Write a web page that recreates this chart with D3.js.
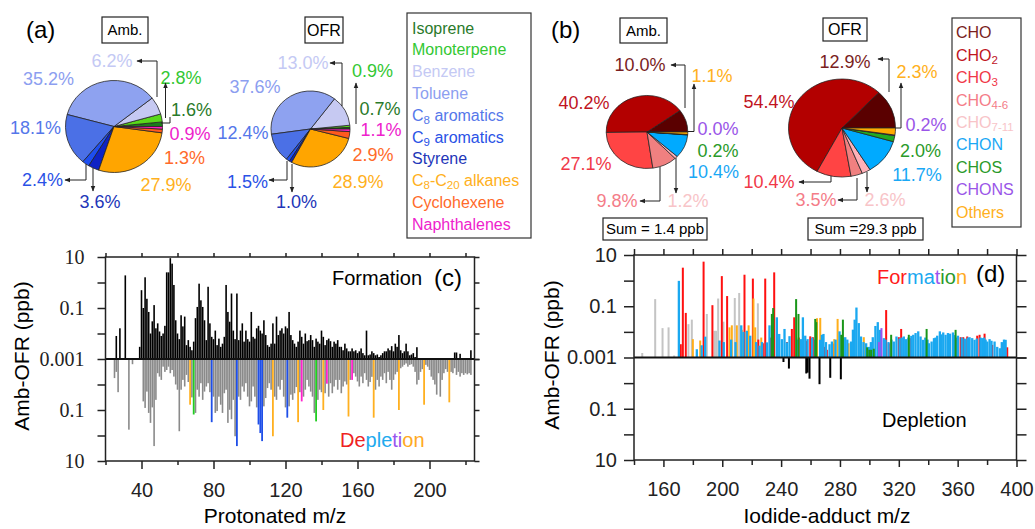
<!DOCTYPE html>
<html>
<head>
<meta charset="utf-8">
<script src="https://cdn.jsdelivr.net/npm/d3@7"></script>
<style>
  body { margin: 0; background: #fff; }
  svg { font-family: "Liberation Sans", Arial, Helvetica, sans-serif; }
</style>
</head>
<body>
<svg id="fig" width="1035" height="529"></svg>
<script>
// ---------- data ----------
// (a) VOC composition, % of total
const vocNames = ["Isoprene", "Monoterpene", "Benzene", "Toluene", "C_{8} aromatics", "C_{9} aromatics",
                  "Styrene", "C_{8}-C_{20} alkanes", "Cyclohexene", "Naphthalenes"];
const vocAmb = [1.6, 2.8, 6.2, 35.2, 18.1, 2.4, 3.6, 27.9, 1.3, 0.9];
const vocOfr = [0.7, 0.9, 13.0, 37.6, 12.4, 1.5, 1.0, 28.9, 2.9, 1.1];

// (b) oxygenated species composition, % of total
const oxyNames = ["CHO", "CHO_{2}", "CHO_{3}", "CHO_{4-6}", "CHO_{7-11}", "CHON", "CHOS", "CHONS", "Others"];
const oxyAmb = [10.0, 40.2, 27.1, 9.8, 1.2, 10.4, 0.2, 0.0, 1.1];
const oxyOfr = [12.9, 54.4, 10.4, 3.5, 2.6, 11.7, 2.0, 0.2, 2.3];
const sumAmb = 1.4, sumOfr = 29.3;

// (c) PTR spectrum difference, [m/z, ppb]
const formationC = [[26,0.008],[28,0.016],[31,1.9],[39,0.003],[40,0.5],[41,0.1],[42,1.6],[43,0.23],[44,0.07],[45,0.01],
 [46,0.03],[47,0.13],[48,0.016],[49,0.025],[50,0.012],[51,0.008],[52,0.01],[53,0.02],[54,2.5],[55,2.5],[56,9],[57,5.5],
 [58,0.8],[59,0.033],[60,0.01],[61,0.006],[62,0.052],[63,0.019],[64,0.046],[65,0.0035],[66,0.0055],[67,0.003],[68,0.0022],
 [69,0.0048],[70,0.04],[71,0.11],[72,0.9],[73,0.2],[74,0.11],[75,0.033],[76,0.0055],[77,0.68],[78,0.025],[79,0.0074],
 [80,0.006],[81,0.013],[82,0.0035],[83,0.0063],[84,0.003],[85,0.004],[86,0.0074],[87,0.8],[88,0.07],[89,0.029],[90,0.37],
 [91,0.013],[92,0.006],[93,0.37],[94,0.0055],[95,0.013],[96,0.025],[97,0.0048],[98,0.013],[99,0.006],[100,0.0048],
 [101,0.07],[102,0.0074],[103,0.0063],[104,0.016],[105,0.02],[106,0.013],[107,0.01],[108,0.033],[109,0.0087],[110,0.0035],
 [111,0.003],[112,0.004],[113,0.025],[114,0.004],[115,0.046],[116,0.0087],[117,0.013],[118,0.016],[119,0.01],[120,0.019],
 [121,0.016],[122,0.07],[123,0.0087],[124,0.0055],[125,0.004],[126,0.003],[127,0.0048],[128,0.013],[129,0.0074],[130,0.004],
 [131,0.01],[132,0.005],[133,0.0055],[134,0.0087],[135,0.0055],[136,0.003],[137,0.0063],[138,0.0048],[139,0.004],[140,0.013],
 [141,0.0074],[142,0.0035],[143,0.0055],[144,0.0063],[145,0.005],[146,0.003],[147,0.0048],[148,0.004],[149,0.0055],[150,0.003],
 [151,0.003],[152,0.0022],[153,0.004],[154,0.0026],[155,0.002],[156,0.002],[157,0.0026],[158,0.002],[159,0.0022],[160,0.0017],
 [161,0.002],[162,0.0026],[163,0.0017],[164,0.0014],[165,0.013],[166,0.0014],[167,0.0015],[168,0.002],[169,0.0017],[170,0.0014],
 [171,0.0015],[172,0.0012],[173,0.0014],[174,0.0017],[175,0.002],[176,0.002],[177,0.0026],[178,0.0022],[179,0.0032],[180,0.002],
 [181,0.004],[182,0.003],[183,0.0087],[184,0.0022],[185,0.0017],[186,0.002],[187,0.004],[188,0.002],[189,0.0014],[190,0.0015],
 [191,0.0017],[192,0.0012],[193,0.0029],[214,0.0018],[215,0.0018],[217,0.0016],[223,0.0022]];

const depletionC = [[25,0.0056],[26,0.0032],[27,0.02],[33,0.59],[35,0.0016],[41,0.046],[42,0.083],[43,0.019],[44,0.13],
 [45,0.32],[46,0.079],[47,2.6],[48,0.04],[49,0.0036],[50,0.0049],[51,0.0066],[52,0.002],[53,0.0032],[54,0.0027],[55,0.002],
 [56,0.0036],[57,0.0027],[58,0.0049],[59,0.01],[60,0.016],[61,0.68],[62,0.016],[63,0.0066],[64,0.012],[65,0.0042],[66,0.008],
 [68,0.032],[70,0.13],[71,0.016],[72,0.03],[73,0.0089],[74,0.04],[75,0.019],[76,0.012],[77,0.0089],[78,0.02],[80,0.03],
 [81,0.13],[82,0.11],[83,0.03],[84,0.062],[85,0.13],[86,0.022],[87,0.016],[88,0.32],[89,0.098],[90,0.23],[91,0.04],[92,1.07],
 [94,0.03],[95,0.04],[96,0.012],[97,0.019],[98,0.0089],[99,0.03],[100,0.072],[101,0.046],[102,0.012],[103,0.03],[104,0.079],
 [108,0.072],[109,0.034],[110,0.0138],[111,0.0089],[112,0.016],[114,0.03],[115,0.04],[116,0.012],[117,0.016],[118,0.0066],
 [119,0.03],[120,0.079],[122,0.072],[123,0.025],[124,0.04],[125,0.022],[126,0.0126],[128,0.02],[130,0.03],[131,0.016],
 [132,0.0066],[133,0.012],[134,0.019],[135,0.03],[136,0.13],[138,0.04],[139,0.016],[140,0.02],[142,0.022],[144,0.03],
 [145,0.0089],[146,0.022],[147,0.012],[148,0.0066],[149,0.016],[150,0.0066],[151,0.022],[152,0.012],[153,0.0076],[154,0.01],
 [156,0.0066],[158,0.0036],[159,0.0049],[160,0.0076],[161,0.012],[162,0.0049],[163,0.0089],[164,0.0036],[165,0.0066],
 [166,0.012],[167,0.008],[168,0.005],[170,0.016],[171,0.0066],[172,0.012],[173,0.0049],[174,0.0066],[175,0.0036],[176,0.0089],
 [177,0.0032],[178,0.0066],[179,0.016],[180,0.0066],[181,0.004],[182,0.0032],[184,0.0023],[185,0.002],[186,0.0017],
 [187,0.0015],[188,0.002],[189,0.0017],[190,0.0016],[191,0.002],[192,0.0032],[193,0.01],[194,0.0066],[195,0.0032],
 [196,0.0025],[198,0.0017],[199,0.002],[200,0.0027],[201,0.0049],[202,0.0066],[203,0.01],[204,0.025],[205,0.0036],[206,0.03],
 [207,0.0066],[208,0.0036],[209,0.0025],[210,0.0032],[212,0.0032],[213,0.0036],[214,0.0023],[215,0.0042],[216,0.0032],
 [217,0.0049],[218,0.0036],[219,0.0042],[220,0.0036],[221,0.004],[222,0.0036],[223,0.0042]];

// highlighted depletion peaks: [m/z, ppb, group]
const depletionHiC = [[67,0.062,"alk"],[69,0.15,"iso"],[79,0.3,"aro"],[93,2.6,"aro"],[105,0.37,"aro"],[106,0.8,"aro"],
 [107,1.66,"aro"],[113,1.07,"alk"],[121,0.2,"aro"],[127,0.3,"alk"],[129,0.046,"nap"],[137,0.28,"iso"],[141,0.1,"alk"],
 [143,0.0093,"nap"],[155,0.18,"alk"],[157,0.0066,"nap"],[169,0.2,"alk"],[183,0.1,"alk"],[197,0.062,"alk"],[211,0.05,"alk"]];

// (d) iodide CIMS difference, [m/z, ppb] per family
const formGrayD = [[145.6,0.0015],[154.4,0.19],[159.4,0.014],[163.5,0.015],[167.3,0.0012],[177,0.02],[179.3,0.03],
 [189.5,0.05],[194.7,0.011],[195.8,0.011],[197.2,0.2],[200.8,0.025],[208.5,0.21],[211.5,0.33],[224.2,0.13]];
const formChoD = [[171.8,0.0033],[173.2,3.2],[175.2,0.055],[187.3,5.5],[193.3,0.11],[199.7,1.5],[203.3,0.25],[215.1,1.7],
 [220.8,1.2],[224.5,0.005],[227.6,0.0036],[229.2,1.2],[232.5,0.006],[235.3,2.1],[244,0.004],[247.3,0.013],[248.9,0.037],
 [252,0.006],[257,0.0045],[259.8,0.0067],[261.6,0.0062],[269.3,0.0026],[271.1,0.002],[275.2,0.0035],[289.4,0.0035],
 [311.4,0.071],[313.2,0.0036],[320,0.0062],[321.6,0.013],[328,0.0057],[362,0.0062],[363.8,0.0062],[366.5,0.0066],
 [373.3,0.0071],[374.9,0.0077],[378.3,0.0085],[383.5,0.0031],[391,0.0036],[393.7,0.0025]];
const formOthD = [[180,0.0052],[185,0.0046],[204.9,0.015],[206.5,0.018],[209.9,0.018],[213.3,0.012],[216.5,0.011],
 [217.9,0.018],[221.2,0.2],[222.4,0.015],[226.5,0.006],[264.4,0.034],[266.6,0.035],[276.1,0.0052],[278.4,0.032],
 [285.9,0.0036],[296.2,0.0062]];
const formChonD = [[170.5,0.98],[182.7,0.0021],[186,0.003],[188.4,0.0065],[198.1,0.0046],[201,0.004],[206,0.005],
 [209,0.004],[212.9,0.018],[214.4,0.01],[216.7,0.011],[219,0.0071],[223,0.004],[225.3,0.0029],[227,0.004],[230.3,0.0039],
 [232.1,0.018],[234,0.008],[237.1,0.037],[238.7,0.0083],[240.5,0.0052],[242.3,0.013],[243.9,0.0039],[245.7,0.0068],
 [251,0.005],[253.4,0.0052],[254.8,0.037],[256.4,0.0071],[258,0.0052],[261,0.006],[263,0.005],[266.5,0.0049],
 [267.7,0.0077],[268.8,0.0083],[270.5,0.004],[272.9,0.0033],[274.5,0.0042],[277,0.005],[279.7,0.0105],[282.4,0.006],
 [283.6,0.0062],[285,0.005],[287.5,0.0042],[288.8,0.0122],[290,0.03],[291.2,0.089],[292.8,0.022],[294.3,0.0066],[296,0.004],
 [297.8,0.0036],[299.6,0.0026],[301,0.004],[302.3,0.0062],[304.1,0.017],[305.7,0.024],[307.1,0.012],[309.8,0.0057],
 [311,0.005],[313,0.004],[315,0.005],[316.6,0.0042],[318.4,0.0066],[320.5,0.0055],[322,0.006],[323.4,0.0066],[325,0.0052],
 [326.5,0.006],[328.5,0.007],[329.8,0.0077],[331.4,0.009],[333.2,0.0105],[334.8,0.0066],[336.4,0.0049],[338,0.006],
 [339.5,0.005],[340.5,0.0036],[342.3,0.0042],[343.9,0.0057],[345,0.006],[346.1,0.0071],[347.9,0.0105],[349,0.008],
 [350.2,0.0095],[351.8,0.0077],[353.4,0.009],[354.8,0.0085],[356.8,0.0095],[358,0.0075],[359,0.006],[360.2,0.0071],
 [362.8,0.006],[364.6,0.0055],[365.4,0.0052],[367,0.006],[368.1,0.0062],[369.9,0.0057],[371.5,0.0049],[373,0.0055],
 [375.5,0.006],[376.7,0.0057],[378,0.006],[379,0.005],[380.1,0.0042],[381.7,0.0052],[383,0.0045],[385.1,0.0042],
 [386.9,0.0026],[388.7,0.0023],[390,0.004],[391.5,0.005],[392.6,0.0049]];
const formChosD = [[233.7,0.05],[234.6,0.085],[250.2,0.19],[251.8,0.05],[263.2,0.032],[263.9,0.024],[280.9,0.0077],
 [282,0.03],[298.5,0.0025],[300,0.002],[301.2,0.002],[303,0.0022],[314.8,0.0077],[326.8,0.0077],[338.9,0.013],[358.6,0.012]];
const formChonsD = [[306.5,0.004],[308.2,0.014]];
const depletionD = [[241.6,0.0015],[245.3,0.0027],[257.1,0.0042],[258,0.0039],[259.3,0.0067],[266.1,0.011],
 [273.4,0.0062],[280.6,0.0071]];

const logTicks = [0.001, 0.01, 0.1, 1, 10];

// ---------- styles ----------
const vocFill = ["#1b7d1b", "#5ad81a", "#c6c9f2", "#8ea2f0", "#4b70e6", "#1d4ef0", "#0e22c4", "#ffa500", "#ff5a1e", "#ff1ec0"];
const vocText = ["#2a7a2a", "#33c833", "#c4c9f4", "#8c9ef0", "#5577ea", "#2a52e6", "#2236b8", "#ffb020", "#ff6a2a", "#ee22cc"];
const oxyFill = ["#5a0000", "#b30000", "#ff4444", "#f08080", "#ffb0b8", "#00aaff", "#22aa22", "#9955ee", "#ffaa00"];
const oxyText = ["#7a1e1e", "#c0141e", "#f03848", "#f47c88", "#f8c4c8", "#1aa8f5", "#2a9a2a", "#9a55e8", "#ffb020"];
const hiColor = {alk: "#ffb020", iso: "#22cc22", aro: "#1f4fe8", nap: "#ff22cc"};

const svg = d3.select("#fig");
const defs = svg.append("defs");
defs.append("marker").attr("id", "arr").attr("viewBox", "0 0 10 10")
  .attr("refX", 9).attr("refY", 5).attr("markerWidth", 6).attr("markerHeight", 6)
  .attr("orient", "auto")
  .append("path").attr("d", "M0,1L10,5L0,9Z").attr("fill", "#222");

// text with _{sub} notation
function rich(t, str) {
  const parts = str.split(/(_\{[^}]*\})/).filter(s => s.length);
  let down = false;
  parts.forEach(p => {
    if (p.startsWith("_{")) {
      t.append("tspan").attr("font-size", "0.72em").attr("dy", down ? 0 : "0.28em").text(p.slice(2, -1));
      down = true;
    } else {
      const s = t.append("tspan").text(p);
      if (down) { s.attr("dy", "-0.2em"); down = false; }
    }
  });
}

function boxLabel(x0, x1, y0, y1, txt, fs) {
  svg.append("rect").attr("x", x0).attr("y", y0).attr("width", x1 - x0).attr("height", y1 - y0)
    .attr("fill", "#fff").attr("stroke", "#222").attr("stroke-width", 1.2);
  svg.append("text").attr("x", (x0 + x1) / 2).attr("y", (y0 + y1) / 2).attr("dy", "0.36em")
    .attr("text-anchor", "middle").attr("font-size", fs).text(txt);
}

const pct = d3.format(".1f");

function drawPie(cx, cy, rx, ry, values, fills, textColors, pos) {
  const r = 50;
  const pie = d3.pie().sort(null).startAngle(Math.PI / 2).endAngle(Math.PI / 2 - 2 * Math.PI);
  const arc = d3.arc().innerRadius(0).outerRadius(r);
  svg.append("g").attr("transform", `translate(${cx},${cy}) scale(${rx / r},${ry / r})`)
    .selectAll("path").data(pie(values)).join("path")
    .attr("d", arc).attr("fill", (d, i) => fills[i])
    .attr("stroke", "#222").attr("stroke-width", 0.8 * r / rx);
  svg.append("g").selectAll("text").data(values).join("text")
    .attr("x", (d, i) => pos[i][0]).attr("y", (d, i) => pos[i][1]).attr("dy", "0.36em")
    .attr("text-anchor", "middle").attr("font-size", 18)
    .attr("fill", (d, i) => textColors[i]).text(d => pct(d) + "%");
}

function leaders(list) {
  const line = d3.line();
  list.forEach(l => {
    svg.append("path").attr("d", line(l.p)).attr("fill", "none")
      .attr("stroke", "#222").attr("stroke-width", 1)
      .attr("marker-end", l.a ? "url(#arr)" : null);
  });
}

// ---------- (a) ----------
svg.append("text").attr("x", 26).attr("y", 38).attr("font-size", 24).text("(a)");
boxLabel(102, 148, 17, 43, "Amb.", 15);
boxLabel(305, 343, 17, 43, "OFR", 16);

drawPie(114, 126.5, 48.5, 46, vocAmb, vocFill, vocText,
  [[191.5,110],[181,78],[112,61],[48.5,79],[35.5,128],[42.5,180],[100,202],[166,185],[184.5,158],[190,134]]);
drawPie(310.5, 129, 39.5, 38, vocOfr, vocFill, vocText,
  [[380,108.5],[372.5,71],[303,63],[255,87],[243,133],[247.5,182],[296.5,202],[358,182],[373,155],[381,130]]);
leaders([
  {p: [[157,97],[157,61],[137,61]], a: true},
  {p: [[165.5,118],[165.5,83]], a: true},
  {p: [[161,123],[170,123],[170,117]], a: false},
  {p: [[86,164],[86,180],[65,180]], a: true},
  {p: [[93,168],[93,191]], a: true},
  {p: [[342,106],[342,63],[330,63]], a: true},
  {p: [[356,124],[356,83]], a: true},
  {p: [[287,161],[287,180],[269,180]], a: true},
  {p: [[292,164],[292,192]], a: true}
]);

// legend (a)
svg.append("rect").attr("x", 407).attr("y", 13).attr("width", 124).attr("height", 225)
  .attr("fill", "#fff").attr("stroke", "#333").attr("stroke-width", 1.2);
vocNames.forEach((n, i) => {
  const t = svg.append("text").attr("x", 412).attr("y", 33.5 + i * 21.8)
    .attr("font-size", 16).attr("fill", vocText[i]);
  rich(t, n);
});

// ---------- (b) ----------
svg.append("text").attr("x", 551).attr("y", 38).attr("font-size", 24).text("(b)");
boxLabel(620, 667, 18, 43, "Amb.", 15);
boxLabel(823, 867, 18, 41, "OFR", 16);

drawPie(647, 132, 40.8, 36.5, oxyAmb, oxyFill, oxyText,
  [[640,65],[584,103],[586,164],[617,201],[688,201],[713.5,172],[718,151],[718,129],[712,76]]);
drawPie(842, 128, 53.5, 49, oxyOfr, oxyFill, oxyText,
  [[845,62],[769,102],[769,182],[816,200],[885,200],[917,175],[920.5,151],[926,125],[917,72]]);
leaders([
  {p: [[685,108],[685,65],[671,65]], a: true},
  {p: [[688,131.5],[694,131.5],[694,84]], a: true},
  {p: [[660,167],[660,201],[640,201]], a: true},
  {p: [[676,158],[676,193]], a: true},
  {p: [[889,92],[889,59],[878,59]], a: true},
  {p: [[896,128],[901,128],[901,83]], a: true},
  {p: [[831,176],[831,182],[799,182]], a: true},
  {p: [[857,178],[857,200],[838,200]], a: true},
  {p: [[867,172],[867,192]], a: true}
]);
boxLabel(603, 707, 218, 240, `Sum = ${sumAmb} ppb`, 15);
boxLabel(808, 923, 218, 240, `Sum =${sumOfr} ppb`, 15);

// legend (b)
svg.append("rect").attr("x", 952).attr("y", 18).attr("width", 69).attr("height", 209)
  .attr("fill", "#fff").attr("stroke", "#333").attr("stroke-width", 1.2);
oxyNames.forEach((n, i) => {
  const t = svg.append("text").attr("x", 956).attr("y", 38.3 + i * 22.4)
    .attr("font-size", 16).attr("fill", oxyText[i]);
  rich(t, n);
});

// ---------- bar panels ----------
function panelAxes(x, yUp, yDn, o) {
  const [x0, x1] = x.range();
  const y0 = yUp.range()[0], yT = yUp.range()[1], yB = yDn.range()[1];
  const style = g => {
    g.select(".domain").remove();
    g.attr("font-family", null).attr("font-size", null);
    g.selectAll("line").attr("stroke", "#222").attr("stroke-width", 1.5);
  };
  // bottom
  svg.append("g").attr("transform", `translate(0,${yB})`)
    .call(d3.axisBottom(x).tickValues(o.major).tickSize(o.bMaj).tickSizeOuter(0).tickPadding(o.bPad).tickFormat(d3.format("d")))
    .call(style).selectAll("text").attr("font-size", 20).attr("fill", "#222");
  svg.append("g").attr("transform", `translate(0,${yB})`)
    .call(d3.axisBottom(x).tickValues(o.minor).tickSize(o.bMin).tickSizeOuter(0).tickFormat(""))
    .call(style);
  // top
  svg.append("g").attr("transform", `translate(0,${yT})`)
    .call(d3.axisTop(x).tickValues(o.major.concat(o.minor)).tickSize(o.tLen).tickSizeOuter(0).tickFormat(""))
    .call(style);
  // left / right
  const lab = d => (d === 10 ? "10" : d === 0.1 ? "0.1" : d === 0.001 ? "0.001" : "");
  [yUp, yDn].forEach((s, k) => {
    svg.append("g").attr("transform", `translate(${x0},0)`)
      .call(d3.axisLeft(s).tickValues(k ? logTicks.slice(1) : logTicks).tickSize(o.lLen).tickSizeOuter(0)
        .tickPadding(o.lPad).tickFormat(lab))
      .call(style).selectAll("text").attr("font-size", 20).attr("fill", "#222")
      .attr("font-family", o.yFont);
    svg.append("g").attr("transform", `translate(${x1},0)`)
      .call(d3.axisRight(s).tickValues(logTicks).tickSize(o.rLen).tickSizeOuter(0).tickFormat(""))
      .call(style);
  });
  svg.append("rect").attr("x", x0).attr("y", yT).attr("width", x1 - x0).attr("height", yB - yT)
    .attr("fill", "none").attr("stroke", "#222").attr("stroke-width", 1.5);
}

function bars(data, x, y, w, color) {
  const y0 = y.range()[0];
  svg.append("g").selectAll("rect").data(data).join("rect")
    .attr("x", d => x(d[0]) - w / 2).attr("width", w)
    .attr("y", d => Math.min(y(d[1]), y0))
    .attr("height", d => Math.abs(y(d[1]) - y0))
    .attr("fill", typeof color === "function" ? color : () => color);
}

function zeroLine(x, y) {
  svg.append("line").attr("x1", x.range()[0]).attr("x2", x.range()[1])
    .attr("y1", y.range()[0]).attr("y2", y.range()[0]).attr("stroke", "#111").attr("stroke-width", 2);
}

function colorWord(x, y, segs) {
  const t = svg.append("text").attr("x", x).attr("y", y).attr("font-size", 20);
  segs.forEach(s => t.append("tspan").attr("fill", s[1]).text(s[0]));
}

// (c)
const xC = d3.scaleLinear().domain([20, 225]).range([105.5, 474.5]);
const yCUp = d3.scaleLog().domain([0.001, 10]).range([359, 257]);
const yCDn = d3.scaleLog().domain([0.001, 10]).range([359, 461]);

bars(formationC, xC, yCUp, 1.6, "#000");
bars(depletionC, xC, yCDn, 1.6, "#8a8a8a");
bars(depletionHiC, xC, yCDn, 1.8, d => hiColor[d[2]]);
zeroLine(xC, yCUp);
panelAxes(xC, yCUp, yCDn, {
  major: [40, 80, 120, 160, 200], minor: [20, 60, 100, 140, 180, 220],
  bMaj: 8, bMin: 4, bPad: 14, tLen: 4, lLen: 8, lPad: 13, rLen: 5, yFont: '"Liberation Serif", "Times New Roman", serif'
});
svg.append("text").attr("x", 332).attr("y", 285).attr("font-size", 20).text("Formation");
svg.append("text").attr("x", 434).attr("y", 286).attr("font-size", 24).text("(c)");
colorWord(340, 447, [["De", "#ee2222"], ["ple", "#22aaee"], ["ti", "#9955ee"], ["on", "#ffaa22"]]);
svg.append("text").attr("x", 275).attr("y", 523).attr("text-anchor", "middle").attr("font-size", 21).text("Protonated m/z");
svg.append("text").attr("transform", "translate(29,356) rotate(-90)").attr("text-anchor", "middle")
  .attr("font-size", 21).text("Amb-OFR (ppb)");

// (d)
const xD = d3.scaleLinear().domain([140, 400]).range([634, 1016.5]);
const yDUp = d3.scaleLog().domain([0.001, 10]).range([357.5, 255]);
const yDDn = d3.scaleLog().domain([0.001, 10]).range([357.5, 460]);

bars(formGrayD, xD, yDUp, 2, "#c4c4c4");
bars(formChoD, xD, yDUp, 2, "#ff1010");
bars(formOthD, xD, yDUp, 2, "#ffae1a");
bars(formChonD, xD, yDUp, 2.3, "#1aa8f0");
bars(formChosD, xD, yDUp, 2, "#1a961a");
bars(formChonsD, xD, yDUp, 2, "#9955ee");
bars(depletionD, xD, yDDn, 2, "#000");
zeroLine(xD, yDUp);
panelAxes(xD, yDUp, yDDn, {
  major: [160, 200, 240, 280, 320, 360, 400], minor: [140, 180, 220, 260, 300, 340, 380],
  bMaj: 7, bMin: 5, bPad: 15, tLen: 6, lLen: 10, lPad: 7, rLen: 10, yFont: null
});
colorWord(877, 284, [["For", "#ff1a1a"], ["ma", "#1aa8f0"], ["t", "#9955ee"], ["io", "#2a9a2a"], ["n", "#ffaa22"]]);
svg.append("text").attr("x", 976).attr("y", 282).attr("font-size", 24).text("(d)");
svg.append("text").attr("x", 882).attr("y", 427).attr("font-size", 20).text("Depletion");
svg.append("text").attr("x", 827).attr("y", 523).attr("text-anchor", "middle").attr("font-size", 21).text("Iodide-adduct m/z");
svg.append("text").attr("transform", "translate(559,355) rotate(-90)").attr("text-anchor", "middle")
  .attr("font-size", 21).text("Amb-OFR (ppb)");
</script>
</body>
</html>
